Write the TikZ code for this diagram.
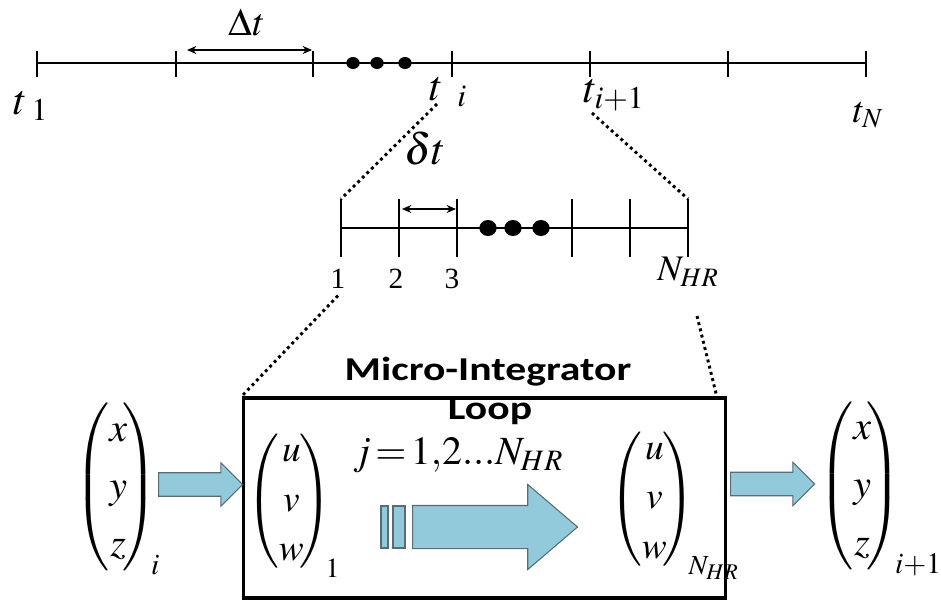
\documentclass[tikz,border=0pt]{standalone}
\usepackage{amsmath}
\usepackage{mathptmx}
\usepackage{fontspec}
\setmainfont{Liberation Serif}
\newfontfamily\titlefont[FakeStretch=1.25]{Carlito}
\usetikzlibrary{shapes.arrows, shapes.geometric, arrows.meta}
\definecolor{arrowblue}{RGB}{146,202,220}
\definecolor{arrowedge}{RGB}{88,108,116}
\delimitershortfall=20pt
\delimiterfactor=800

\begin{document}
\begin{tikzpicture}[
  x=0.75pt, y=-0.75pt,
  >={Stealth[length=7pt,width=6pt]},
  axis/.style={line width=0.9pt},
  dim/.style={line width=1pt, <->},
  dotmark/.style={ellipse, fill=black, inner sep=0pt, minimum width=10pt, minimum height=9pt},
  zoomline/.style={line width=2.2pt, dash pattern=on 2.2pt off 2.6pt},
  tlabel/.style={font=\fontsize{32}{36}\selectfont, inner sep=0pt},
  numlabel/.style={font=\fontsize{22}{24}\selectfont, inner sep=0pt},
  xyzvec/.style={font={\fontsize{30}{36}\selectfont\def\arraystretch{1.2}},
    inner sep=0pt, anchor=west},
  uvwvec/.style={font={\fontsize{28}{31}\selectfont\def\arraystretch{1.2}},
    inner sep=0pt, anchor=west},
  fatarrow/.style={single arrow, draw=arrowedge, fill=arrowblue, line width=0.8pt,
    inner xsep=0pt, inner ysep=8.4pt, single arrow head extend=7.5pt,
    minimum height=63pt, single arrow tip angle=90, anchor=tail},
  stripe/.style={rectangle, draw=arrowedge, fill=arrowblue, line width=0.8pt,
    inner sep=0pt, minimum height=31.5pt},
  loopbox/.style={rectangle, draw=black, line width=2.4pt,
    minimum width=362pt, minimum height=150pt},
  titletext/.style={font=\titlefont\fontsize{25}{28}\selectfont\bfseries, inner sep=0pt}
]
\useasboundingbox (0,0) rectangle (941,604);

% Coarse time axis
\draw[axis] (37,63) -- (866,63);
\foreach \x [count=\k] in {37,176,313,452,590,728,866}
  \draw[axis] (\x,51) coordinate (T\k) -- (\x,77);
\node[dotmark] (d1) at (353,63) {};
\node[dotmark] (d2) at (377,63) {};
\node[dotmark] (d3) at (405,63) {};
\coordinate (Dl) at (187,50);
\coordinate (Dr) at (312,50);
\draw[dim] (Dl) -- (Dr);
\node[font=\fontsize{29}{32}\selectfont, inner sep=0pt] (Dt) at (247,23) {$\Delta t$};

% Time labels
\node[tlabel] (t1) at (31,106) {$t_{\;1}$};
\node[tlabel] (ti) at (448,92) {$t_{\;\;\,i}$};
\node[tlabel] (ti1) at (614,95) {$t_{i+1}$};
\node[tlabel, font=\fontsize{28}{32}\selectfont] (tN) at (868,115) {$t_{N}$};

% Fine time axis
\draw[axis] (341,228) -- (688,228);
\foreach \x [count=\k] in {341,399,457,572,630,688}
  \draw[axis] (\x,199) coordinate (S\k) -- (\x,257) coordinate (B\k);
\node[dotmark, minimum width=13pt, minimum height=12pt] (e1) at (488,228) {};
\node[dotmark, minimum width=13pt, minimum height=12pt] (e2) at (513,228) {};
\node[dotmark, minimum width=13pt, minimum height=12pt] (e3) at (541,228) {};
\coordinate (dl) at (402,209);
\coordinate (dr) at (456,209);
\draw[dim] (dl) -- (dr);
\node[font=\fontsize{33}{36}\selectfont, inner sep=0pt] (dt) at (425,148) {$\delta t$};

\node[numlabel] (n1) at (338,279) {1};
\node[numlabel] (n2) at (396,279) {2};
\node[numlabel] (n3) at (452,279) {3};
\node[font=\fontsize{27}{30}\selectfont, inner sep=0pt] (nHR) at (688,272) {$N_{HR}$};

% Zoom lines
\coordinate (zi) at (437,104);
\coordinate (zi1) at (592,113);
\draw[zoomline] (zi) -- (S1);
\draw[zoomline] (zi1) -- (S6);

% Micro-integrator loop
\node[loopbox] (loop) at (484.5,498) {};
\coordinate (zr) at (697,316);
\draw[zoomline] ([yshift=-5pt]n1.south) -- (loop.north west);
\draw[zoomline] (zr) -- ([xshift=-8pt]loop.north east);
\node[titletext] (title) at (488,372) {Micro-Integrator};
\node[titletext] (loopword) at (490,411) {Loop};
\node[font=\fontsize{30}{34}\selectfont, inner sep=0pt] (jrange) at (458,455) {$j\!=\!1,\!2...N_{HR}$};

% State vectors
\node[xyzvec] (xi) at (74,488) {$\left(\begin{matrix}x\\y\\z\end{matrix}\!\right)_{\kern-5pt i}$};
\node[uvwvec] (uv1) at (246,502) {$\left(\begin{matrix}u\\v\\w\end{matrix}\!\right)_{\kern-5pt 1}$};
\node[uvwvec] (uvN) at (609,502) {$\left(\begin{matrix}u\\v\\w\end{matrix}\!\right)_{\kern-5pt N_{HR}}$};
\node[xyzvec] (xi1) at (818,488) {$\left(\begin{matrix}x\\y\\z\end{matrix}\!\right)_{\kern-5pt i+1}$};

% Block arrows
\node[fatarrow] (ain) at (158,484.5) {};
\node[fatarrow] (aout) at (730,484) {};
\node[stripe, minimum width=5.25pt] (s1) at (384.5,527) {};
\node[stripe, minimum width=9pt] (s2) at (399,527) {};
\node[fatarrow, inner ysep=15.75pt, single arrow head extend=15.75pt,
  minimum height=123.75pt, single arrow tip angle=81] (aloop) at (412,527) {};

\end{tikzpicture}
\end{document}
